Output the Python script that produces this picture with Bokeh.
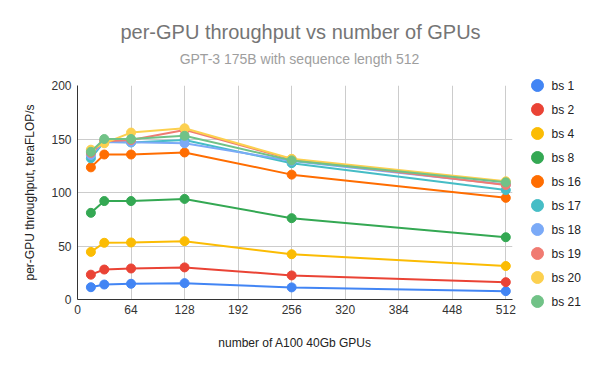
from bokeh.plotting import figure
from bokeh.models import Label, Range1d, FixedTicker, ColumnDataSource
from bokeh.core.properties import value
from bokeh.layouts import column, row
from bokeh.embed import file_html
from bokeh.resources import INLINE

gpus = [16, 32, 64, 128, 256, 512]
series_names = ["bs 1", "bs 2", "bs 4", "bs 8", "bs 16", "bs 17", "bs 18", "bs 19", "bs 20", "bs 21"]
bs1 = [11.5, 14, 14.7, 15.3, 11.3, 7.8]
bs2 = [23.2, 28, 29, 30, 22.5, 16.2]
bs4 = [44.5, 53, 53.3, 54.5, 42.3, 31.3]
bs8 = [81, 92, 92, 94, 76, 58.2]
bs16 = [123.5, 135.5, 135.5, 137.4, 116.7, 95]
bs17 = [132, 147.5, 146.8, 149, 127.4, 102.3]
bs18 = [135, 147, 147, 146, 129.5, 107.5]
bs19 = [137, 148, 149, 158.5, 131, 107]
bs20 = [140, 146, 156, 160, 131.5, 110.5]
bs21 = [138, 150, 150, 153, 130, 109.5]
all_series = [bs1, bs2, bs4, bs8, bs16, bs17, bs18, bs19, bs20, bs21]
colors = ["#4285F4", "#EA4335", "#FBBC04", "#34A853", "#FF6D01",
          "#46BDC6", "#7BAAF7", "#F07B72", "#FCD04F", "#71C287"]
x_ticks = [0, 64, 128, 192, 256, 320, 384, 448, 512]
y_ticks = [0, 50, 100, 150, 200]

FONT = "Liberation Sans"

def bare(fig):
    fig.outline_line_color = None
    fig.grid.visible = False
    fig.frame_align = False

# ---- header (title + subtitle) ----
HEAD_H = 75
head = figure(width=600, height=HEAD_H, output_backend="svg", toolbar_location=None,
              x_axis_type=None, y_axis_type=None, x_range=Range1d(0, 1), y_range=Range1d(0, 1),
              min_border=0, min_border_left=0, min_border_right=0, min_border_top=0, min_border_bottom=0)
bare(head)
head.add_layout(Label(x=300, y=HEAD_H - 31, x_units="screen", y_units="screen",
                      text="per-GPU throughput vs number of GPUs", text_align="center",
                      text_baseline="middle", text_font=FONT, text_font_size="20px",
                      text_color="#757575"))
head.add_layout(Label(x=299, y=HEAD_H - 58, x_units="screen", y_units="screen",
                      text="GPT-3 175B with sequence length 512", text_align="center",
                      text_baseline="middle", text_font=FONT, text_font_size="14px",
                      text_color="#9e9e9e"))

# ---- main chart ----
MAIN_H = 280
p = figure(width=520, height=MAIN_H, output_backend="svg", toolbar_location=None,
           x_range=Range1d(0, 520), y_range=Range1d(0, 200),
           min_border_left=77, min_border_right=8, min_border_top=10, min_border_bottom=56)
p.outline_line_color = None
p.frame_align = False

for name, ys, c in zip(series_names, all_series, colors):
    p.line(gpus, ys, line_color=c, line_width=2)
    p.scatter(gpus, ys, size=9, fill_color=c, line_color=c)

for ax in (p.xaxis[0], p.yaxis[0]):
    ax.major_tick_line_color = None
    ax.minor_tick_line_color = None
    ax.major_tick_out = 0
    ax.major_tick_in = 0
    ax.minor_tick_out = 0
    ax.axis_line_color = "#333333"
    ax.major_label_text_font = FONT
    ax.major_label_text_font_size = "12px"
    ax.major_label_text_color = "#333333"
    ax.axis_label_text_font = FONT
    ax.axis_label_text_font_size = "12px"
    ax.axis_label_text_font_style = "normal"
    ax.axis_label_text_color = "#222222"

p.xaxis.ticker = FixedTicker(ticks=x_ticks)
p.yaxis.ticker = FixedTicker(ticks=y_ticks)
p.xaxis.axis_label = "number of A100 40Gb GPUs"
p.yaxis.axis_label = "per-GPU throughput, teraFLOP/s"
p.xaxis.major_label_standoff = 5
p.yaxis.major_label_standoff = 6
p.xaxis.axis_label_standoff = 19
p.yaxis.axis_label_standoff = 11

p.xgrid.grid_line_color = "#cccccc"
p.ygrid.grid_line_color = "#cccccc"

# ---- legend panel ----
LEG_W = 80
leg = figure(width=LEG_W, height=MAIN_H, output_backend="svg", toolbar_location=None,
             x_axis_type=None, y_axis_type=None,
             x_range=Range1d(0, LEG_W), y_range=Range1d(MAIN_H, 0),
             min_border=0, min_border_left=0, min_border_right=0, min_border_top=0, min_border_bottom=0)
bare(leg)
row_pitch = 24
first_row = 10
leg_src = ColumnDataSource(dict(
    label=series_names,
    color=colors,
    y=[first_row + i * row_pitch for i in range(len(series_names))],
    xm=[17] * len(series_names),
    xt=[31] * len(series_names),
))
leg.scatter("xm", "y", source=leg_src, size=12, fill_color="color", line_color="color")
leg.text("xt", "y", text="label", source=leg_src, text_baseline="middle",
         text_font=value(FONT), text_font_size=value("12px"), text_color="#222222")

layout = column(head, row(p, leg))
open("out.html", "w").write(file_html(layout, INLINE))
